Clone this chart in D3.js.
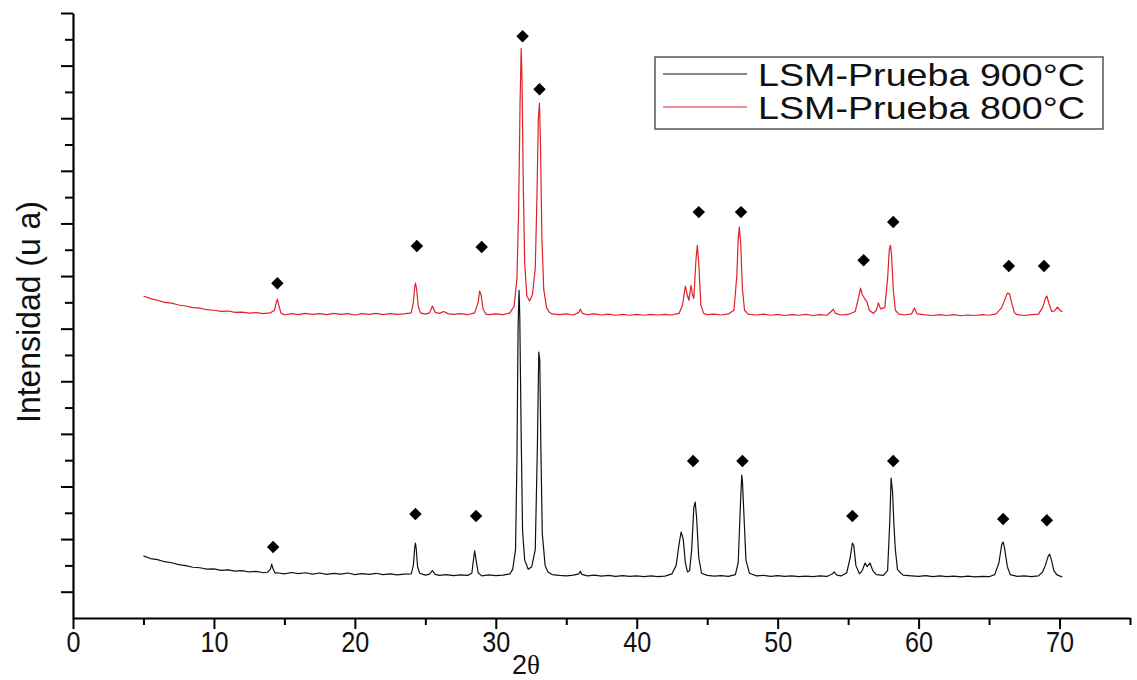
<!DOCTYPE html>
<html><head><meta charset="utf-8">
<script src="https://cdn.jsdelivr.net/npm/d3@7"></script>
<style>body{margin:0;background:#fff}svg{display:block}</style>
</head><body><svg id="c" width="1137" height="680"></svg>
<script>
const xMajorTicks = [0,10,20,30,40,50,60,70];
const xMinorTicks = [5,15,25,35,45,55,65,75];
const yMajorTicks = [100,300,500,700,900,1100,1300,1500,1700,1900,2100,2300];
const yMinorTicks = [200,400,600,800,1000,1200,1400,1600,1800,2000,2200];
const seriesNames = ["LSM-Prueba 900°C","LSM-Prueba 800°C"];
const seriesColors = ["#111111","#e0202a"];
const xLabel = "2θ";
const yLabel = "Intensidad (u a)";

const pattern900 = [
[5.0,236],[5.5,226],[6.0,222],[6.5,214],[7.0,210],[7.5,203],[8.0,199],[8.5,193],[9.0,191],[9.5,186],[10.0,187],[10.5,181],[11.0,183],[11.5,178],[12.0,180],[12.5,175],[13.0,177],[13.5,172],[13.8,174],
[14.0,185],[14.1,205],[14.2,186],[14.35,170],[14.5,172],[15.0,168],[15.5,173],[16.0,169],[16.5,172],[17.0,167],[17.5,171],[18.0,166],[18.5,170],[19.0,167],[19.5,171],[20.0,165],[20.5,169],[21.0,166],[21.5,170],[22.0,165],[22.5,168],[23.0,164],[23.5,167],[24.0,168],
[24.15,200],[24.25,270],[24.3,285],[24.35,265],[24.45,195],[24.6,170],[25.0,163],[25.3,167],[25.5,180],[25.7,166],[26.0,162],[26.5,165],[27.0,161],[27.5,164],[28.0,162],[28.3,170],
[28.4,215],[28.5,255],[28.6,220],[28.75,172],[29.0,160],[29.5,164],[30.0,161],[30.5,163],[31.0,168],[31.2,185],
[31.4,260],[31.5,600],[31.58,1100],[31.65,1246],[31.7,1150],[31.8,700],[31.9,330],[32.05,220],[32.3,185],[32.55,195],
[32.8,260],[32.95,650],[33.05,1011],[33.12,980],[33.2,640],[33.3,320],[33.5,200],[33.7,175],[34.0,165],
[34.5,162],[35.0,160],[35.5,163],[35.9,168],[36.0,178],[36.1,166],[36.5,160],[37.0,163],[37.5,159],[38.0,162],[38.5,158],[39.0,161],[39.5,158],[40.0,160],[40.5,157],[41.0,160],[41.5,157],[42.0,159],[42.5,168],
[42.8,200],[43.0,280],[43.15,327],[43.3,300],[43.45,210],[43.6,175],[43.75,180],[43.9,260],[44.05,420],[44.15,441],[44.25,380],[44.4,230],[44.6,170],
[45.0,162],[45.5,159],[46.0,161],[46.5,158],[47.0,165],[47.2,210],[47.35,420],[47.45,543],[47.5,520],[47.6,400],[47.75,220],[48.0,170],
[48.5,160],[49.0,162],[49.5,158],[50.0,161],[50.5,158],[51.0,160],[51.5,157],[52.0,159],[52.5,157],[53.0,160],[53.5,158],[53.9,168],[54.0,175],[54.2,163],[54.5,160],[54.9,172],
[55.15,230],[55.3,285],[55.4,275],[55.55,200],[55.8,168],[56.0,180],[56.2,209],[56.35,195],[56.55,209],[56.75,180],[57.0,165],[57.5,162],[57.8,180],
[57.95,360],[58.05,532],[58.15,480],[58.25,353],[58.35,260],[58.5,185],[58.65,175],[58.9,163],
[59.5,160],[60.0,158],[60.5,161],[61.0,157],[61.5,160],[62.0,157],[62.5,159],[63.0,156],[63.5,159],[64.0,156],[64.5,158],[65.0,157],[65.4,165],
[65.7,210],[65.9,280],[66.0,289],[66.1,265],[66.3,195],[66.5,165],[67.0,158],[67.5,160],[68.0,157],[68.5,160],[68.8,175],[69.0,201],[69.2,235],[69.3,243],[69.45,215],[69.6,180],[69.8,165],[70.0,160],[70.2,156]
];

const pattern800 = [
[5.0,1224],[5.5,1214],[6.0,1208],[6.5,1200],[7.0,1197],[7.5,1190],[8.0,1186],[8.5,1180],[9.0,1178],[9.5,1172],[10.0,1170],[10.5,1166],[11.0,1167],[11.5,1162],[12.0,1163],[12.5,1159],[13.0,1161],[13.5,1157],[14.0,1160],[14.3,1170],
[14.4,1195],[14.5,1212],[14.6,1190],[14.75,1160],[15.0,1152],[15.5,1157],[16.0,1153],[16.5,1158],[17.0,1154],[17.5,1157],[18.0,1153],[18.5,1158],[19.0,1154],[19.5,1157],[20.0,1152],[20.5,1157],[21.0,1154],[21.5,1158],[22.0,1153],[22.5,1157],[23.0,1154],[23.5,1156],[24.0,1160],
[24.15,1200],[24.25,1260],[24.3,1273],[24.38,1250],[24.5,1185],[24.65,1160],[25.0,1155],[25.3,1160],[25.5,1186],[25.7,1162],[26.0,1158],[26.3,1165],[26.6,1157],[27.0,1154],[27.5,1157],[28.0,1153],[28.5,1160],
[28.75,1200],[28.85,1243],[28.95,1230],[29.1,1175],[29.3,1155],[29.5,1153],[30.0,1156],[30.5,1153],[31.0,1160],[31.3,1185],
[31.5,1290],[31.62,1550],[31.72,1950],[31.8,2166],[31.86,2050],[31.95,1650],[32.05,1350],[32.2,1225],[32.4,1205],[32.6,1230],
[32.8,1330],[32.92,1600],[33.02,1900],[33.1,1957],[33.17,1800],[33.27,1450],[33.4,1250],[33.6,1180],[33.8,1162],[34.0,1156],
[34.5,1153],[35.0,1156],[35.5,1152],[35.9,1162],[36.0,1174],[36.15,1158],[36.5,1153],[37.0,1156],[37.5,1152],[38.0,1155],[38.5,1151],[39.0,1154],[39.5,1151],[40.0,1154],[40.5,1151],[41.0,1154],[41.5,1152],[42.0,1154],[42.5,1152],[43.0,1158],[43.25,1190],
[43.45,1262],[43.6,1225],[43.7,1208],[43.85,1265],[43.95,1230],[44.05,1215],[44.2,1360],[44.3,1417],[44.4,1350],[44.55,1190],[44.75,1158],
[45.0,1153],[45.5,1155],[46.0,1152],[46.5,1156],[46.9,1170],[47.1,1300],[47.2,1440],[47.28,1486],[47.38,1420],[47.5,1250],[47.65,1170],[47.9,1155],
[48.5,1152],[49.0,1155],[49.5,1151],[50.0,1154],[50.5,1150],[51.0,1153],[51.5,1151],[52.0,1154],[52.5,1150],[53.0,1153],[53.5,1151],[53.8,1165],[53.95,1174],[54.1,1158],[54.5,1152],[55.0,1154],[55.5,1165],
[55.75,1220],[55.88,1254],[56.0,1230],[56.2,1212],[56.35,1200],[56.5,1170],[56.8,1158],[57.0,1170],[57.15,1198],[57.3,1175],[57.6,1180],
[57.8,1290],[57.92,1400],[58.0,1417],[58.08,1380],[58.2,1250],[58.35,1170],[58.6,1155],
[59.0,1152],[59.5,1156],[59.7,1178],[59.9,1156],[60.3,1153],[61.0,1150],[61.5,1153],[62.0,1150],[62.5,1153],[63.0,1149],[63.5,1152],[64.0,1150],[64.5,1153],[65.0,1151],[65.5,1156],[65.9,1180],
[66.15,1215],[66.3,1235],[66.45,1232],[66.6,1200],[66.8,1160],[67.0,1153],[67.5,1150],[68.0,1153],[68.5,1155],[68.8,1180],[69.0,1215],[69.1,1224],[69.25,1195],[69.45,1165],[69.65,1168],[69.85,1182],[70.0,1172],[70.2,1163]
];

const markers900 = [[14.2,270],[24.3,395],[28.6,388],[44.0,597],[47.5,597],[55.3,388],[58.2,597],[66.0,376],[69.1,372]];
const markers800 = [[14.5,1273],[24.4,1414],[29.0,1410],[31.9,2212],[33.1,2010],[44.4,1543],[47.4,1543],[56.1,1360],[58.2,1505],[66.4,1338],[68.9,1338]];

const svg = d3.select("#c");
const FONT = "Liberation Sans, Arial, sans-serif";
const x = d3.scaleLinear().domain([0,75]).range([73,1130]);
const y = d3.scaleLinear().domain([0,2300]).range([618,13]);

// traces
const line = d3.line().x(d=>x(d[0])).y(d=>y(d[1]));
[[pattern900,seriesColors[0]],[pattern800,seriesColors[1]]].forEach(([data,col])=>{
  svg.append("path").datum(data).attr("d",line).attr("fill","none")
    .attr("stroke",col).attr("stroke-width",1.2).attr("stroke-linejoin","round");
});

// markers (diamonds)
const diamond = d3.symbol().type(d3.symbolSquare).size(78);
svg.append("g").selectAll("path").data(markers900.concat(markers800)).join("path")
  .attr("d",diamond)
  .attr("transform",d=>`translate(${x(d[0])},${y(d[1])}) rotate(45)`)
  .attr("fill","#000");

// axes
const gx = svg.append("g").attr("transform","translate(0,618)");
gx.call(d3.axisBottom(x).tickValues(xMinorTicks).tickSize(7).tickSizeOuter(0).tickFormat(""));
gx.call(g=>g.select(".domain").remove());
const gx2 = svg.append("g").attr("transform","translate(0,618)");
gx2.call(d3.axisBottom(x).tickValues(xMajorTicks).tickSize(11).tickSizeOuter(0).tickFormat(d3.format("d")));
gx2.select(".domain").attr("stroke-width",2.2);
gx2.selectAll(".tick text").attr("y",34).attr("dy",null)
  .attr("font-family",FONT).attr("font-size",29).attr("fill","#111")
  .attr("textLength",d=>d<10?14:28).attr("lengthAdjust","spacingAndGlyphs");

const gy = svg.append("g").attr("transform","translate(73,0)");
gy.call(d3.axisLeft(y).tickValues(yMinorTicks).tickSize(8).tickSizeOuter(0).tickFormat(""));
gy.call(g=>g.select(".domain").remove());
const gy2 = svg.append("g").attr("transform","translate(73,0)");
gy2.call(d3.axisLeft(y).tickValues(yMajorTicks).tickSize(12).tickSizeOuter(0).tickFormat(""));
gy2.select(".domain").attr("stroke-width",2.2);
svg.selectAll(".tick line").attr("stroke-width",2).attr("stroke","#000");

// axis titles
const xt = svg.append("text").attr("x",526).attr("y",674).attr("text-anchor","middle")
  .attr("font-family",FONT).attr("font-size",27).attr("fill","#111");
xt.append("tspan").text(xLabel[0]);
xt.append("tspan").attr("font-family","Liberation Serif, Times New Roman, serif").text(xLabel[1]);

svg.append("text").attr("transform","translate(40,312) rotate(-90)").attr("text-anchor","middle")
  .attr("font-family",FONT).attr("font-size",33).attr("fill","#111")
  .attr("textLength",222).attr("lengthAdjust","spacingAndGlyphs").text(yLabel);

// legend
const lg = svg.append("g");
lg.append("rect").attr("x",655).attr("y",57).attr("width",448).attr("height",72)
  .attr("fill","#fff").attr("stroke","#555").attr("stroke-width",1.5);
seriesNames.forEach((name,i)=>{
  const ly = [74,107][i];
  lg.append("line").attr("x1",663).attr("x2",747).attr("y1",ly).attr("y2",ly)
    .attr("stroke",seriesColors[i]).attr("stroke-width",1);
  lg.append("text").attr("x",758).attr("y",[86,119][i])
    .attr("font-family",FONT).attr("font-size",32).attr("fill","#111")
    .attr("textLength",327).attr("lengthAdjust","spacingAndGlyphs").text(name);
});
</script></body></html>
